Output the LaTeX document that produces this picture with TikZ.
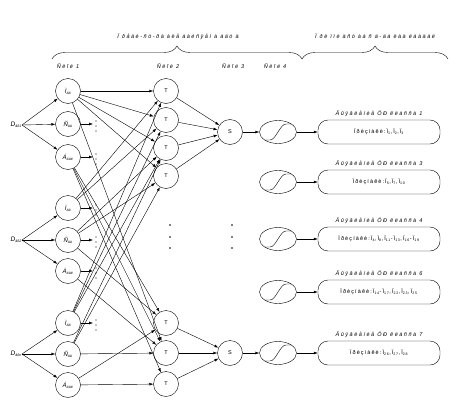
\documentclass[tikz,border=0pt]{standalone}
\usepackage{fontspec}
\setmainfont{Liberation Sans}
\newfontfamily\widefont[LetterSpace=28]{Liberation Sans}
\newfontfamily\boxfont[LetterSpace=20]{Liberation Sans}
\newcommand{\sbs}[1]{\textsubscript{\fontsize{3.6}{4}\selectfont #1}}
\usetikzlibrary{arrows.meta,decorations.pathreplacing,shapes.geometric}
\begin{document}
\begin{tikzpicture}[x=1pt,y=-1pt,line width=0.4pt,
  neuron/.style={circle,draw,minimum size=25pt,inner sep=0pt,font=\fontsize{6}{7}\selectfont\itshape},
  tnode/.style={circle,draw,minimum size=25pt,inner sep=0pt,font=\fontsize{5.5}{6}\selectfont},
  arr/.style={-{Latex[length=4pt,width=2.8pt]}},
  lbl/.style={font=\widefont\fontsize{5.5}{6}\selectfont\itshape,inner sep=0pt},
  dlbl/.style={font=\fontsize{6.5}{7}\selectfont\itshape,inner sep=0pt},
  sig/.style={ellipse,draw,minimum width=37pt,minimum height=23pt,inner sep=0pt},
  cbox/.style={draw,rounded corners=10pt,minimum width=122pt,minimum height=24pt,inner sep=0pt,font=\boxfont\fontsize{5.5}{6}\selectfont},
  brc/.style={decorate,decoration={brace,amplitude=13pt}},
  dotm/.style={fill,circle,inner sep=0pt,minimum size=1.6pt}]
\useasboundingbox (0,0) rectangle (465,404);

% top braces and titles
\coordinate (bl) at (52,59);
\coordinate (bm) at (302,59);
\coordinate (br) at (448,59);
\draw[brc] (bl) -- (bm);
\draw[brc] (bm) -- (br);
\node[lbl] (title1) at (178,37) {Ï ðåäè-ñò-ðà àëå ààéñÿåì à àäò ä};
\node[lbl] (title2) at (375,36) {Ï ðè ïìè äñò àà ñ ä-äà ëàä ëààäàë};

% layer labels
\node[lbl] (l1) at (68,66) {Ñëîé 1};
\node[lbl] (l2) at (168,66) {Ñëîé 2};
\node[lbl] (l3) at (233,66) {Ñëîé 3};
\node[lbl] (l4) at (275,66) {Ñëîé 4};

% inputs
\node[dlbl,anchor=east] (d1) at (22,125) {D\sbs{âõ1}};
\node[dlbl,anchor=east] (d2) at (22,240) {D\sbs{âõ2}};
\node[dlbl,anchor=east] (d3) at (22,354) {D\sbs{âõn}};

% layer 1
\node[neuron] (a1) at (68,91) {Ì\sbs{ää}};
\node[neuron] (b1) at (68,124) {Ñ\sbs{ää}};
\node[neuron] (c1) at (68,157) {Á\sbs{äàë}};
\node[neuron] (a2) at (68,208) {Ì\sbs{ää}};
\node[neuron] (b2) at (68,240) {Ñ\sbs{ää}};
\node[neuron] (c2) at (68,271) {Á\sbs{äàë}};
\node[neuron] (a3) at (68,323) {Ì\sbs{ää}};
\node[neuron] (b3) at (68,354) {Ñ\sbs{ää}};
\node[neuron] (c3) at (68,385) {Á\sbs{äàë}};

% layer 2
\node[tnode] (t1) at (166,91) {T};
\node[tnode] (t2) at (166,120) {T};
\node[tnode] (t3) at (166,148) {T};
\node[tnode] (t4) at (166,176) {T};
\node[tnode] (t5) at (166,323) {T};
\node[tnode] (t6) at (166,353) {T};
\node[tnode] (t7) at (166,384) {T};

% layer 3
\node[tnode] (s1) at (230,132) {S};
\node[tnode] (s2) at (230,353) {S};

% inputs to layer 1
\foreach \d/\n in {d1/a1,d1/b1,d1/c1,d2/a2,d2/b2,d2/c2,d3/a3,d3/b3,d3/c3}
  \draw[arr] (\d.east) -- (\n);

% stub arrows with dots
\foreach \n/\y in {b1/124,c1/157,a2/208,b2/240,c2/271,a3/323}{
  \coordinate (st\n) at (93,\y);
  \draw[arr] (\n) -- (st\n);
  \node[dotm,minimum size=1.1pt] at ([shift={(3,-3)}]st\n) {};
  \node[dotm,minimum size=1.1pt] at ([shift={(3,2)}]st\n) {};
  \node[dotm,minimum size=1.1pt] at ([shift={(3,7)}]st\n) {};
}

% layer 1 to layer 2
\foreach \a/\b in {a1/t1,a1/t2,a1/t3,a1/t4,a1/t6,
                   c1/t5,c1/t6,c1/t7,
                   a2/t1,a2/t2,b2/t3,b2/t4,b2/t5,c2/t6,
                   a3/t1,a3/t2,a3/t3,b3/t3,b3/t4,
                   b3/t6,c3/t7,c3/t5}
  \draw[arr] (\a) -- (\b);

% layer 2 to layer 3
\foreach \t in {t1,t2,t3,t4} \draw[arr] (\t) -- (s1);
\foreach \t in {t5,t6,t7} \draw[arr] (\t) -- (s2);

% vertical dots
\foreach \x in {170,232}
  \foreach \y in {225,237,248}
    \node[dotm] at (\x,\y) {};

% layer 4 sigmoids, output boxes
\foreach \i/\y/\k/\txt in {
  1/132/1/{Ïðèçíàêè:Ï\sbs{1},Ï\sbs{2},Ï\sbs{3}},
  2/182/3/{Ïðèçíàêè:Ï\sbs{5},Ï\sbs{7},Ï\sbs{10}},
  3/239/4/{Ïðèçíàêè:Ï\sbs{4},Ï\sbs{8},Ï\sbs{11}-Ï\sbs{13},Ï\sbs{16}-Ï\sbs{19}},
  4/292/6/{Ïðèçíàêè:Ï\sbs{14}-Ï\sbs{17},Ï\sbs{22},Ï\sbs{23},Ï\sbs{25}},
  5/353/7/{Ïðèçíàêè:Ï\sbs{26},Ï\sbs{27},Ï\sbs{28}}}{
  \node[sig] (e\i) at (278,\y) {};
  \draw ([shift={(-13,8)}]e\i.center) -- ++(5,0)
     .. controls +(6,0) and +(-6,0) .. ++(16,-16) -- ++(5,0);
  \node[cbox] (o\i) at (379,\y) {\txt};
  \node[lbl] (ol\i) at (379,\y-18) {Âûÿâëåíèå ÖÐ êëàññà \k};
  \draw[arr] (e\i) -- (o\i);
}
\draw[arr] (s1) -- (e1);
\draw[arr] (s2) -- (e5);
\end{tikzpicture}
\end{document}
